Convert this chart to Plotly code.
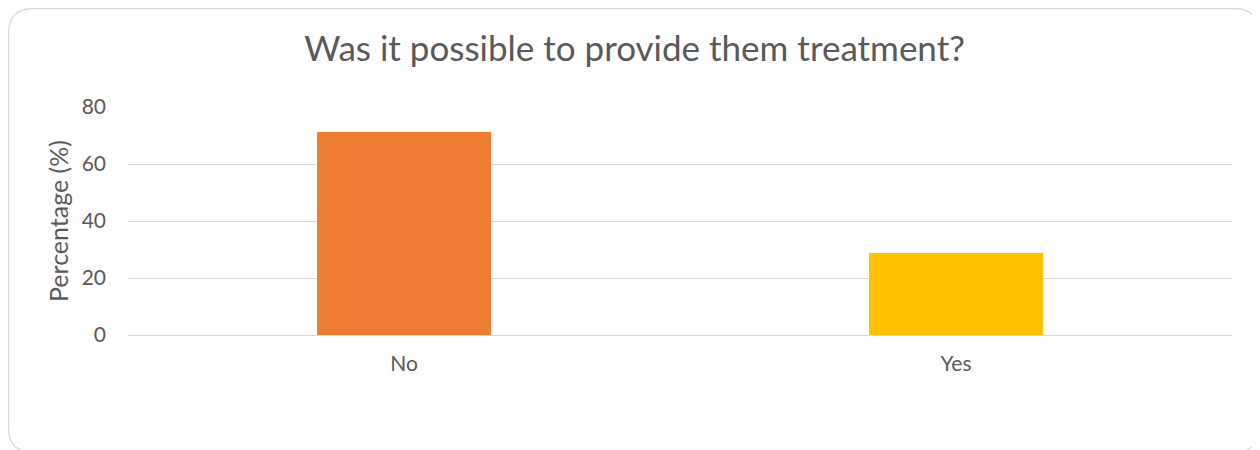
import plotly.graph_objects as go

categories = ["No", "Yes"]
values = [71.2, 28.8]
colors = ["#ED7D31", "#FFC000"]
title_text = "Was it possible to provide them treatment?"
y_title = "Percentage (%)"
y_ticks = [0, 20, 40, 60, 80]

# page body has an 8px margin, so the figure is sized to fit the window
W, H = 1252, 442
L, R, T, B = 120, 28, 99, 115
pw, ph = W - L - R, H - T - B

def px(x):
    return (x - L) / pw

def py(y):
    return (H - B - y) / ph

fig = go.Figure()
fig.add_trace(go.Bar(x=categories, y=values, marker=dict(color=colors, line=dict(width=0)),
                     width=0.315, hoverinfo="x+y"))

# rounded border of chart area (bottom edge falls just outside the window)
x0, x1, y0, y1, r = 0.5, 1251, 0.5, 444.5, 25
path = (f"M {px(x0+r)} {py(y0)} L {px(x1-r)} {py(y0)} Q {px(x1)} {py(y0)} {px(x1)} {py(y0+r)} "
        f"L {px(x1)} {py(y1-r)} Q {px(x1)} {py(y1)} {px(x1-r)} {py(y1)} "
        f"L {px(x0+r)} {py(y1)} Q {px(x0)} {py(y1)} {px(x0)} {py(y1-r)} "
        f"L {px(x0)} {py(y0+r)} Q {px(x0)} {py(y0)} {px(x0+r)} {py(y0)} Z")
fig.add_shape(type="path", xref="paper", yref="paper", path=path,
              line=dict(color="#D9D9D9", width=1.3), layer="below")

font_family = "Lato, 'Open Sans', sans-serif"
fig.update_layout(
    width=W, height=H,
    margin=dict(l=L, r=R, t=T, b=B, autoexpand=False),
    paper_bgcolor="white", plot_bgcolor="white",
    showlegend=False,
    font=dict(family=font_family, color="#595959", size=21),
    title=dict(text=title_text, x=0.5 + 0.5 / W, xref="container", xanchor="center",
               y=1 - 41 / H, yanchor="middle", yref="container",
               font=dict(size=35, color="#595959", family=font_family)),
    xaxis=dict(showgrid=False, showline=False, zeroline=False, ticks="", automargin=False,
               ticklabelstandoff=14, tickfont=dict(size=21, color="#595959")),
    yaxis=dict(range=[0, 80], tickvals=y_ticks, showgrid=True, gridcolor="#D9D9D9",
               gridwidth=1, zeroline=True, zerolinecolor="#D9D9D9", zerolinewidth=1,
               showline=False, ticks="", ticklabelstandoff=21, automargin=False,
               tickfont=dict(size=21, color="#595959"),
               title=dict(text=y_title, standoff=5, font=dict(size=25, color="#595959"))),
)

fig.write_html("out.html")
